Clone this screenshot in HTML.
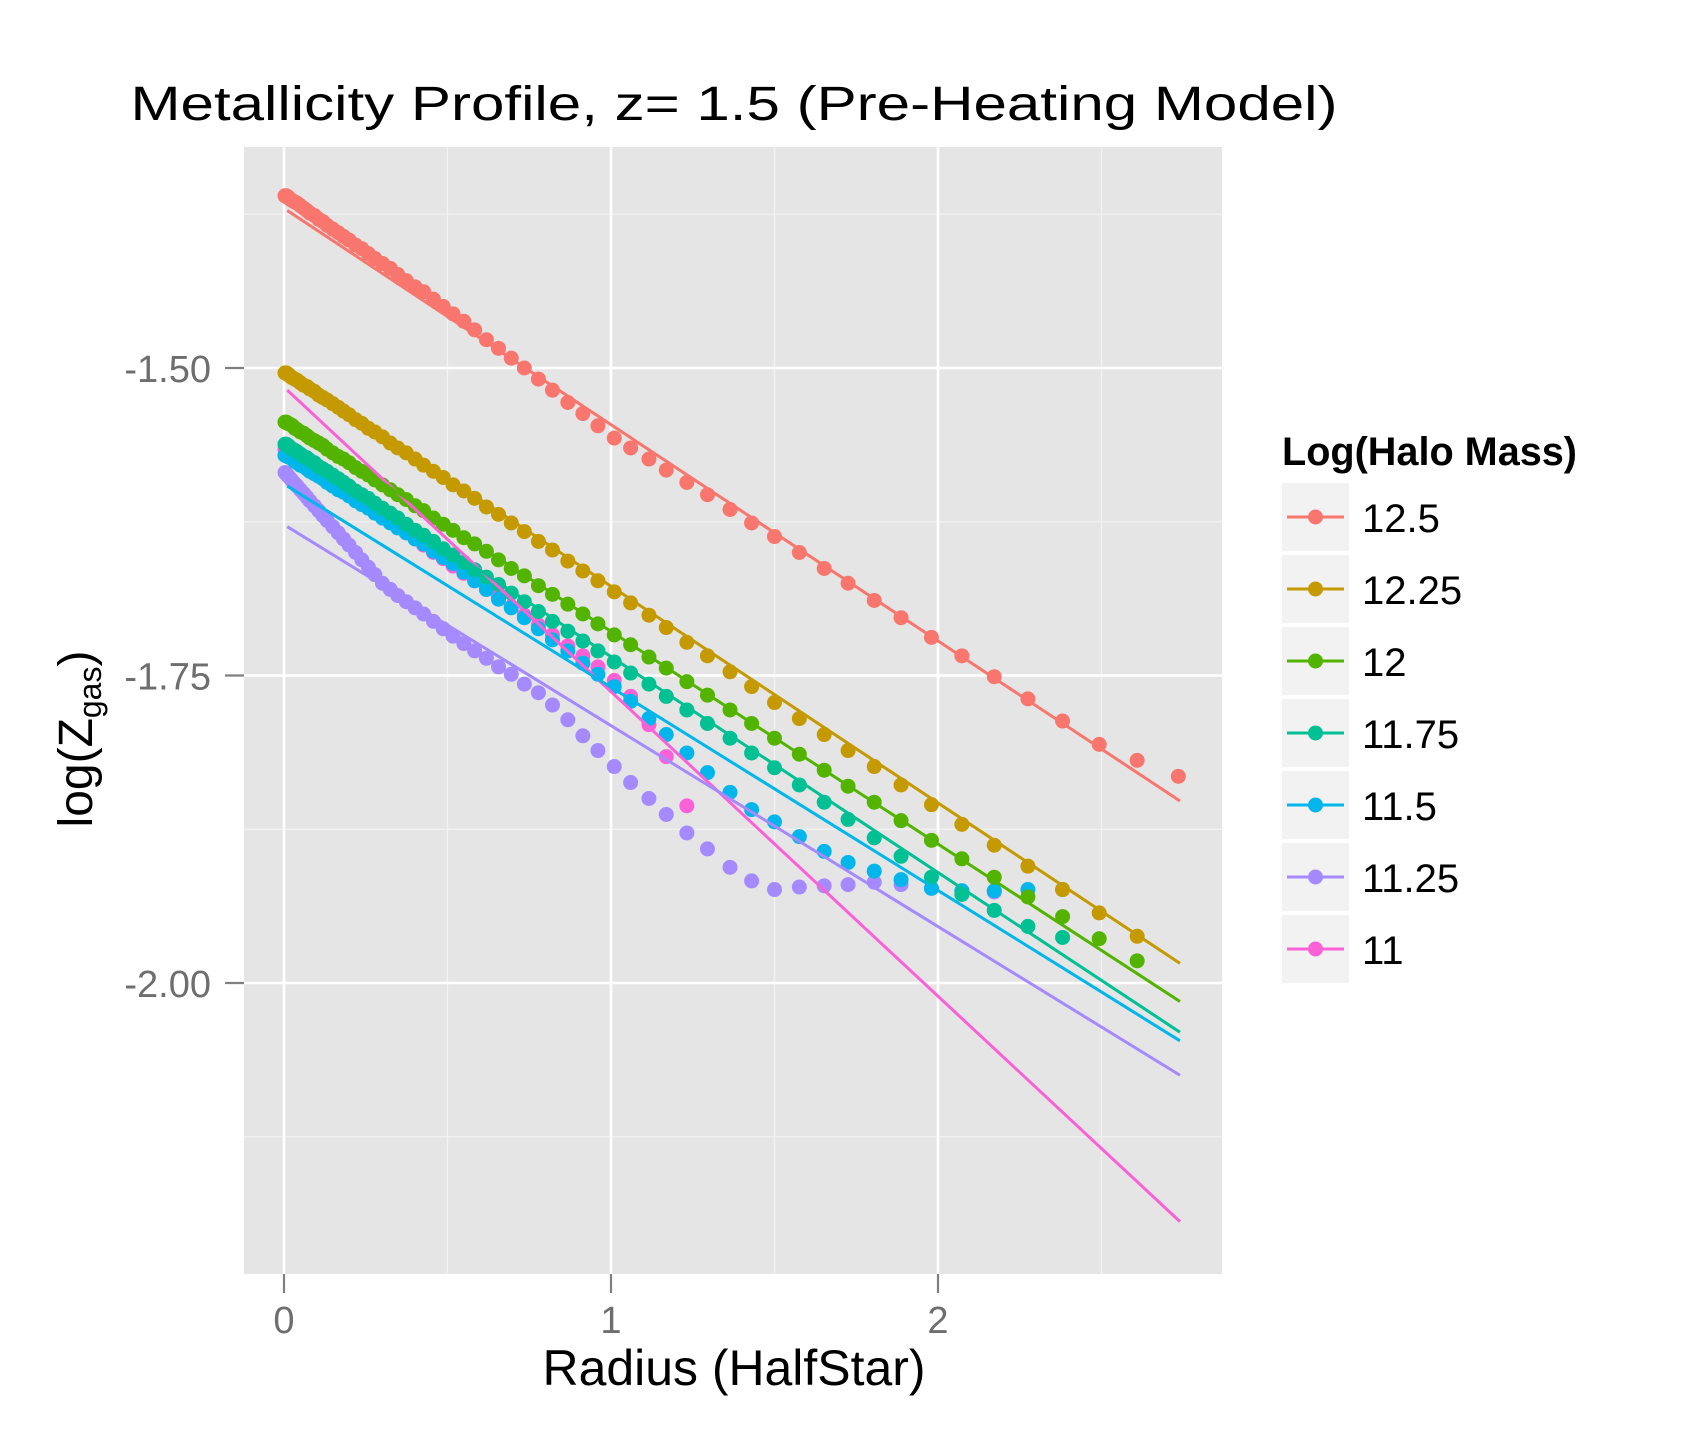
<!DOCTYPE html>
<html><head><meta charset="utf-8"><style>
html,body{margin:0;padding:0;background:#fff;}
svg{display:block;font-family:"Liberation Sans",Arial,sans-serif;}
</style></head><body>
<svg id="chart" width="1696" height="1429" viewBox="0 0 1696 1429">
<rect x="0" y="0" width="1696" height="1429" fill="#fff"/>
<text x="734" y="120" font-size="48" text-anchor="middle" textLength="1207" lengthAdjust="spacingAndGlyphs">Metallicity Profile, z= 1.5 (Pre-Heating Model)</text>
<rect x="244" y="147" width="978" height="1127" fill="#E5E5E5"/>
<g id="grid"></g>
<g id="points"></g>
<g id="lines"></g>
<g id="axes"></g>
<text x="734" y="1385" font-size="50" text-anchor="middle" textLength="383" lengthAdjust="spacingAndGlyphs">Radius (HalfStar)</text>
<text transform="translate(92,739) rotate(-90)" font-size="48" text-anchor="middle">log(Z<tspan font-size="32" dy="9">gas</tspan><tspan dy="-9">)</tspan></text>
<text x="1282" y="465" font-size="40" font-weight="bold" textLength="295" lengthAdjust="spacingAndGlyphs">Log(Halo Mass)</text>
<g id="legend"></g>
</svg>
<script>
const seriesNames = ["12.5","12.25","12","11.75","11.5","11.25","11"];
const colors = ["#F8766D","#C49A00","#53B400","#00C094","#00B6EB","#A58AFF","#FB61D7"];
const radii = [0.003,0.007,0.010,0.013,0.020,0.026,0.033,0.040,0.050,0.060,0.070,0.079,0.093,0.106,0.119,0.132,0.149,0.166,0.182,0.199,0.219,0.238,0.258,0.278,0.301,0.325,0.348,0.374,0.401,0.427,0.457,0.487,0.517,0.550,0.583,0.619,0.656,0.695,0.735,0.778,0.821,0.868,0.914,0.960,1.010,1.060,1.116,1.169,1.232,1.295,1.364,1.430,1.500,1.576,1.652,1.725,1.805,1.887,1.980,2.073,2.172,2.275,2.381,2.493,2.609,2.735];
const yRed = [-1.360,-1.360,-1.361,-1.361,-1.363,-1.364,-1.365,-1.366,-1.368,-1.370,-1.372,-1.374,-1.376,-1.379,-1.381,-1.384,-1.387,-1.390,-1.393,-1.396,-1.400,-1.403,-1.407,-1.411,-1.415,-1.419,-1.424,-1.429,-1.434,-1.438,-1.444,-1.450,-1.456,-1.462,-1.469,-1.477,-1.484,-1.492,-1.500,-1.509,-1.518,-1.528,-1.537,-1.547,-1.557,-1.565,-1.574,-1.583,-1.593,-1.603,-1.615,-1.626,-1.637,-1.650,-1.663,-1.675,-1.689,-1.703,-1.719,-1.734,-1.751,-1.769,-1.787,-1.806,-1.819,-1.832];
const yOrange = [-1.504,-1.504,-1.505,-1.505,-1.507,-1.508,-1.509,-1.510,-1.512,-1.514,-1.515,-1.517,-1.519,-1.522,-1.524,-1.526,-1.529,-1.532,-1.535,-1.538,-1.542,-1.545,-1.549,-1.552,-1.556,-1.561,-1.565,-1.569,-1.574,-1.579,-1.584,-1.589,-1.595,-1.600,-1.606,-1.613,-1.619,-1.626,-1.633,-1.641,-1.648,-1.657,-1.665,-1.673,-1.682,-1.691,-1.701,-1.711,-1.723,-1.734,-1.747,-1.759,-1.772,-1.785,-1.798,-1.811,-1.824,-1.839,-1.855,-1.871,-1.888,-1.905,-1.924,-1.943,-1.962];
const yGreen = [-1.544,-1.544,-1.545,-1.545,-1.546,-1.547,-1.549,-1.550,-1.552,-1.553,-1.555,-1.557,-1.559,-1.561,-1.563,-1.566,-1.569,-1.572,-1.574,-1.577,-1.581,-1.584,-1.587,-1.591,-1.595,-1.599,-1.603,-1.607,-1.612,-1.616,-1.622,-1.627,-1.632,-1.638,-1.643,-1.649,-1.656,-1.663,-1.669,-1.677,-1.684,-1.692,-1.700,-1.708,-1.717,-1.725,-1.735,-1.744,-1.755,-1.766,-1.778,-1.789,-1.801,-1.814,-1.827,-1.840,-1.853,-1.868,-1.884,-1.899,-1.914,-1.930,-1.946,-1.964,-1.982];
const yTeal = [-1.562,-1.562,-1.563,-1.563,-1.565,-1.566,-1.567,-1.568,-1.570,-1.572,-1.573,-1.575,-1.577,-1.580,-1.582,-1.584,-1.587,-1.590,-1.593,-1.596,-1.600,-1.603,-1.606,-1.610,-1.614,-1.618,-1.622,-1.627,-1.632,-1.636,-1.641,-1.647,-1.652,-1.658,-1.664,-1.670,-1.676,-1.683,-1.690,-1.698,-1.706,-1.714,-1.722,-1.730,-1.739,-1.748,-1.757,-1.767,-1.778,-1.789,-1.801,-1.813,-1.825,-1.839,-1.853,-1.867,-1.882,-1.897,-1.914,-1.928,-1.941,-1.954,-1.963];
const yBlue = [-1.571,-1.571,-1.572,-1.572,-1.573,-1.574,-1.576,-1.577,-1.579,-1.580,-1.582,-1.584,-1.586,-1.588,-1.590,-1.593,-1.596,-1.599,-1.601,-1.604,-1.608,-1.611,-1.614,-1.618,-1.622,-1.626,-1.630,-1.634,-1.639,-1.643,-1.649,-1.654,-1.659,-1.666,-1.673,-1.680,-1.688,-1.695,-1.703,-1.712,-1.721,-1.730,-1.740,-1.749,-1.759,-1.771,-1.785,-1.798,-1.813,-1.829,-1.845,-1.859,-1.869,-1.881,-1.893,-1.902,-1.909,-1.916,-1.923,-1.925,-1.925,-1.924,-1.924];
const yPurple = [-1.585,-1.586,-1.587,-1.588,-1.590,-1.592,-1.594,-1.596,-1.599,-1.602,-1.605,-1.608,-1.612,-1.616,-1.620,-1.624,-1.629,-1.634,-1.639,-1.644,-1.650,-1.656,-1.662,-1.668,-1.675,-1.680,-1.685,-1.690,-1.695,-1.700,-1.706,-1.712,-1.718,-1.724,-1.730,-1.736,-1.743,-1.749,-1.757,-1.764,-1.774,-1.786,-1.799,-1.811,-1.824,-1.837,-1.850,-1.863,-1.878,-1.891,-1.906,-1.917,-1.924,-1.922,-1.921,-1.920,-1.918,-1.920,-1.923,-1.925,-1.926];
const yPink = [-1.566,-1.566,-1.567,-1.567,-1.569,-1.570,-1.571,-1.572,-1.574,-1.576,-1.578,-1.580,-1.582,-1.585,-1.587,-1.589,-1.593,-1.596,-1.599,-1.602,-1.606,-1.609,-1.613,-1.616,-1.621,-1.625,-1.629,-1.634,-1.639,-1.644,-1.650,-1.655,-1.661,-1.667,-1.673,-1.680,-1.686,-1.694,-1.701,-1.709,-1.717,-1.726,-1.734,-1.743,-1.754,-1.767,-1.790,-1.816,-1.856];
const fitStartY = [-1.372,-1.503,-1.543,-1.561,-1.596,-1.629,-1.518];
const fitEndY = [-1.852,-1.984,-2.015,-2.040,-2.047,-2.075,-2.194];
const fitX = [0.01, 2.74];
const xTicks = [0,1,2];
const xTickLabels = ["0","1","2"];
const yTicks = [-1.5,-1.75,-2.0];
const yTickLabels = ["-1.50","-1.75","-2.00"];
const xMinor = [0.5,1.5,2.5];
const yMinor = [-1.375,-1.625,-1.875,-2.125];

const NS="http://www.w3.org/2000/svg";
function X(v){return 284 + v*327;}
function Y(v){return 368 + (-1.5 - v)*1230;}
function mk(tag, attrs, parent){const e=document.createElementNS(NS,tag);for(const k in attrs)e.setAttribute(k,attrs[k]);parent.appendChild(e);return e;}
const grid=document.getElementById('grid'), pts=document.getElementById('points'), lns=document.getElementById('lines'), axes=document.getElementById('axes'), leg=document.getElementById('legend');
xMinor.forEach(v=>{const l=mk('line',{x1:X(v),x2:X(v),y1:147,y2:1274,stroke:'#F2F2F2','stroke-width':1.3},grid);

});
yMinor.forEach(v=>{const l=mk('line',{x1:244,x2:1222,y1:Y(v),y2:Y(v),stroke:'#F2F2F2','stroke-width':1.3},grid);

});
xTicks.forEach((v,i)=>{const l=mk('line',{x1:X(v),x2:X(v),y1:147,y2:1274,stroke:'#fff','stroke-width':2.6},grid);


const t=mk('line',{x1:X(v),x2:X(v),y1:1274,y2:1293,stroke:'#7F7F7F','stroke-width':2.2},axes);


const tx=mk('text',{x:X(v),y:1333,'font-size':38,'text-anchor':'middle',fill:'#6E6E6E'},axes);tx.textContent=xTickLabels[i];

});
yTicks.forEach((v,i)=>{const l=mk('line',{x1:244,x2:1222,y1:Y(v),y2:Y(v),stroke:'#fff','stroke-width':2.6},grid);


const t=mk('line',{x1:225,x2:244,y1:Y(v),y2:Y(v),stroke:'#7F7F7F','stroke-width':2.2},axes);


const tx=mk('text',{x:211,y:Y(v)+14,'font-size':38,'text-anchor':'end',fill:'#6E6E6E'},axes);tx.textContent=yTickLabels[i];

});
const ys=[yRed,yOrange,yGreen,yTeal,yBlue,yPurple,yPink];
for(let s=ys.length-1;s>=0;s--){
  const arr=ys[s];
  const g=mk('g',{},pts);
  
  
  arr.forEach((v,i)=>{const c=mk('circle',{cx:X(radii[i]),cy:Y(v),r:7.5,fill:colors[s]},g);
    
    });
}
for(let s=ys.length-1;s>=0;s--){
  const ln=mk('line',{x1:X(fitX[0]),y1:Y(fitStartY[s]),x2:X(fitX[1]),y2:Y(fitEndY[s]),stroke:colors[s],'stroke-width':3},lns);
  
  
}
seriesNames.forEach((n,i)=>{
  const cy=517+i*72;
  const g=mk('g',{},leg);
  
  
  mk('rect',{x:1282,y:cy-34,width:67,height:68,fill:'#F2F2F2'},g);
  mk('line',{x1:1287,x2:1344,y1:cy,y2:cy,stroke:colors[i],'stroke-width':3},g);
  mk('circle',{cx:1315.5,cy:cy,r:7.5,fill:colors[i]},g);
  const t=mk('text',{x:1362,y:cy+15,'font-size':40},g);t.textContent=n;
});
</script>
</body></html>
